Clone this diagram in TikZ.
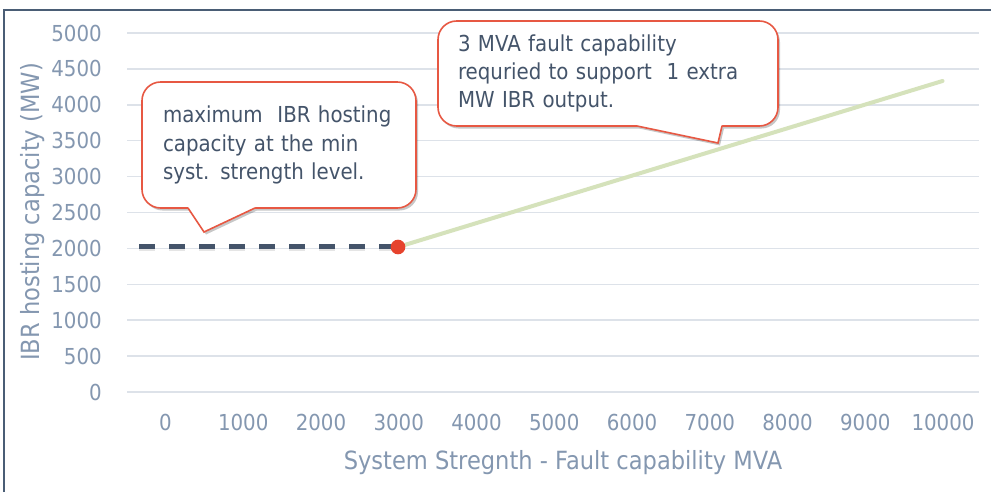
\documentclass[tikz,border=0pt]{standalone}
\usepackage{fontspec}
\setmainfont{DejaVu Sans}[FakeStretch=0.9]
\usetikzlibrary{shadows}
\definecolor{axisgrey}{HTML}{8497B0}
\definecolor{slate}{HTML}{44546A}
\definecolor{gridgrey}{HTML}{DDE2E9}
\definecolor{framegrey}{HTML}{4A5D75}
\definecolor{sage}{HTML}{D5E2BB}
\definecolor{dotred}{HTML}{E6432D}
\definecolor{callred}{HTML}{E75843}
\begin{document}
\begin{tikzpicture}[x=0.75pt,y=-0.75pt,
  frameline/.style={draw=framegrey,line width=1.2pt},
  gridline/.style={draw=gridgrey,line width=1.1pt},
  ylab/.style={anchor=east,inner sep=0pt,text=axisgrey,font=\fontsize{16.5}{20}\selectfont},
  xlab/.style={anchor=center,inner sep=0pt,text=axisgrey,font=\fontsize{16.5}{20}\selectfont},
  axtitle/.style={anchor=center,inner sep=0pt,text=axisgrey,font=\fontsize{18.8}{22}\selectfont},
  dashline/.style={draw=slate,line width=3.2pt,dash pattern=on 12pt off 10.5pt},
  dashshadow/.style={draw=black,opacity=0.1,line width=3.2pt,dash pattern=on 12pt off 10.5pt},
  greenline/.style={draw=sage,line width=3pt,line cap=round},
  dotmark/.style={circle,fill=dotred,minimum size=11pt,inner sep=0pt},
  calloutbox/.style={draw=callred,line width=1.2pt,fill=white,rounded corners=14pt,
    drop shadow={shadow xshift=1.5pt,shadow yshift=-1.9pt,opacity=0.22,fill=black},
    text=slate,align=left,inner ysep=0pt,font=\fontsize{16.5}{21.2}\selectfont},
  pointershadow/.style={fill=black,opacity=0.22},
  pointerline/.style={draw=callred,line width=1.2pt,line cap=round,line join=miter}
]
\useasboundingbox (0,0) rectangle (991,492);
\fill[white] (0,0) rectangle (991,492);

% chart frame (top and left edges)
\draw[frameline] (4,492) -- (4,10) -- (991,10);

% horizontal grid lines and value axis labels
\foreach \v [count=\i from 0] in {0,500,...,5000}{
  \draw[gridline] (127,{392-35.9*\i}) -- (979,{392-35.9*\i});
  \node[ylab] (y\i) at (102,{392-35.9*\i}) {\v};
}

% category axis labels
\foreach \v [count=\i from 0] in {0,1000,...,10000}{
  \node[xlab] (x\i) at ({165.5+77.75*\i},422) {\v};
}

% axis titles
\node[axtitle] (xtitle) at (563,463) {System Stregnth - Fault capability MVA};
\node[axtitle,rotate=90] (ytitle) at (33,212) {IBR hosting capacity (MW)};

% data series
\coordinate (dstart) at (139,246.5);
\coordinate (dend) at (398,246.5);
\coordinate (knee) at (398,247);
\coordinate (gend) at (942.5,81);
\draw[greenline] (knee) -- (gend);
\draw[dashshadow] ([yshift=-1.4pt]dstart) -- ([yshift=-1.4pt]dend);
\draw[dashline] (dstart) -- (dend);
\node[dotmark] (kneedot) at (knee) {};

% callout: minimum hosting capacity
\coordinate (p1l) at (188,208);
\coordinate (p1t) at (204,232);
\coordinate (p1r) at (255,208);
\fill[pointershadow] ([shift={(2,2.5)}]p1l) -- ([shift={(2,2.5)}]p1t) -- ([shift={(2,2.5)}]p1r) -- cycle;
\node[calloutbox,text width=174pt,inner xsep=15.75pt,minimum width=205.5pt,minimum height=94.5pt]
  (c1) at (279,145) {maximum\ \ IBR hosting\\capacity at the min\\syst. strength level.};
\fill[white] (188,204) -- (p1l) -- (p1t) -- (p1r) -- (255,204) -- cycle;
\draw[pointerline] (p1l) -- (p1t) -- (p1r);

% callout: fault capability per MW
\coordinate (p2l) at (637,126);
\coordinate (p2t) at (718,143);
\coordinate (p2r) at (722,126);
\fill[pointershadow] ([shift={(2,2.5)}]p2l) -- ([shift={(2,2.5)}]p2t) -- ([shift={(2,2.5)}]p2r) -- cycle;
\node[calloutbox,text width=225pt,inner xsep=15pt,minimum width=255pt,minimum height=78.75pt]
  (c2) at (608,73.5) {3 MVA fault capability\\requried to support\ \ 1 extra\\MW IBR output.};
\fill[white] (637,122) -- (p2l) -- (p2t) -- (p2r) -- (722,122) -- cycle;
\draw[pointerline] (p2l) -- (p2t) -- (p2r);
\end{tikzpicture}
\end{document}
